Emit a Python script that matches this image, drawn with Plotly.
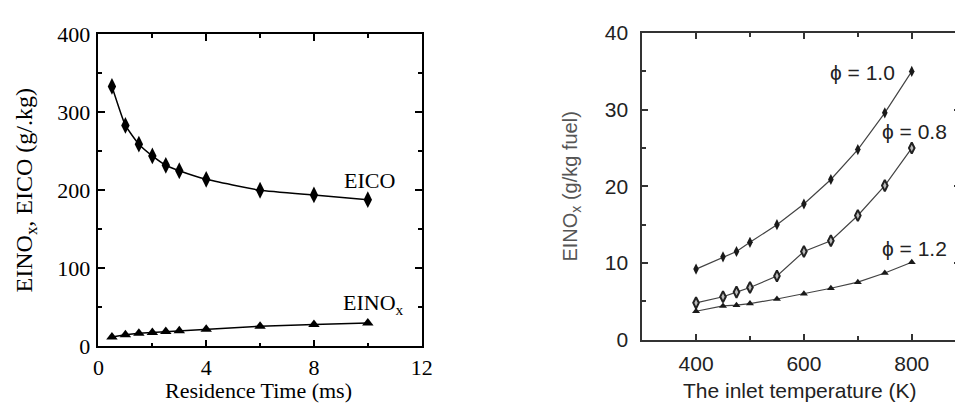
import plotly.graph_objects as go

# ---- Left panel data ----
res_time = [0.5, 1.0, 1.5, 2.0, 2.5, 3.0, 4.0, 6.0, 8.0, 10.0]
eico = [333, 283, 259, 244, 232, 225, 214, 200, 194, 188]
einox = [12, 15, 17, 18, 19, 20, 22, 26, 28, 30]

# ---- Right panel data ----
inlet_T = [400, 450, 475, 500, 550, 600, 650, 700, 750, 800]
phi_10 = [9.2, 10.8, 11.5, 12.7, 15.0, 17.7, 20.9, 24.8, 29.6, 35.0]
phi_08 = [4.8, 5.6, 6.2, 6.8, 8.3, 11.5, 12.9, 16.2, 20.1, 25.0]
phi_12 = [3.7, 4.4, 4.5, 4.7, 5.3, 6.0, 6.7, 7.5, 8.7, 10.1]

left_x_ticks = [0, 4, 8, 12]
left_y_ticks = [0, 100, 200, 300, 400]
right_x_ticks = [400, 600, 800]
right_y_ticks = [0, 10, 20, 30, 40]

SERIF = "Liberation Serif, Times New Roman, serif"
SANS = "Liberation Sans, Arial, sans-serif"

fig = go.Figure()

fig.add_trace(go.Scatter(
    x=res_time, y=eico, mode="lines+markers", name="EICO",
    line=dict(color="black", width=1.5, shape="spline", smoothing=0.4),
    marker=dict(symbol="diamond-tall", size=12, color="black"),
    xaxis="x", yaxis="y", showlegend=False))
fig.add_trace(go.Scatter(
    x=res_time, y=einox, mode="lines+markers", name="EINOx",
    line=dict(color="black", width=1.5),
    marker=dict(symbol="triangle-up", size=10, color="black"),
    xaxis="x", yaxis="y", showlegend=False))

fig.add_trace(go.Scatter(
    x=inlet_T, y=phi_10, mode="lines+markers", name="φ = 1.0",
    line=dict(color="#444", width=1.2),
    marker=dict(symbol="diamond-tall", size=8, color="#1a1a1a"),
    xaxis="x2", yaxis="y2", showlegend=False))
fig.add_trace(go.Scatter(
    x=inlet_T, y=phi_08, mode="lines+markers", name="φ = 0.8",
    line=dict(color="#444", width=1.2),
    marker=dict(symbol="diamond-tall", size=8, color="#bbbbbb",
                line=dict(color="#222", width=2)),
    xaxis="x2", yaxis="y2", showlegend=False))
fig.add_trace(go.Scatter(
    x=inlet_T, y=phi_12, mode="lines+markers", name="φ = 1.2",
    line=dict(color="#444", width=1.2),
    marker=dict(symbol="triangle-up", size=7, color="#1a1a1a"),
    xaxis="x2", yaxis="y2", showlegend=False))

W, H = 963, 404
left_dom_x = [86 / W, 415 / W]
left_dom_y = [(H - 348) / H, (H - 15) / H]
right_dom_x = [639.4 / W, 1.0]
right_dom_y = [(H - 340.7) / H, (H - 14) / H]
right_xmax = 300 + (W - 639.4) / 0.549

common_left = dict(showline=True, linecolor="black", linewidth=1.5, mirror="ticks",
                   ticks="inside", ticklen=7, tickwidth=1.5, tickcolor="black",
                   showgrid=False, zeroline=False,
                   tickfont=dict(family=SERIF, size=22, color="black"))
common_right = dict(showline=True, linecolor="#333", linewidth=1.5, mirror="ticks",
                    ticks="inside", ticklen=6, tickwidth=1.5, tickcolor="#333",
                    showgrid=False, zeroline=False,
                    tickfont=dict(family=SANS, size=21, color="#222"))

fig.update_layout(
    width=W, height=H, margin=dict(l=0, r=0, t=0, b=0),
    paper_bgcolor="white", plot_bgcolor="white",
    xaxis=dict(domain=left_dom_x, range=[0, 12], tickvals=left_x_ticks,
               minor=dict(dtick=2, ticks="inside", ticklen=4, tickcolor="black", showgrid=False),
               anchor="y", ticklabelstandoff=0,
               **common_left),
    yaxis=dict(domain=left_dom_y, range=[0, 400], tickvals=left_y_ticks,
               minor=dict(dtick=50, ticks="inside", ticklen=4, tickcolor="black", showgrid=False),
               anchor="x", ticklabelstandoff=2,
               title=dict(text="EINO<sub>x</sub>, EICO (g/.kg)", font=dict(family=SERIF, size=24, color="black"),
                          standoff=18),
               **common_left),
    xaxis2=dict(domain=right_dom_x, range=[300, right_xmax], tickvals=right_x_ticks,
                minor=dict(dtick=100, ticks="inside", ticklen=4, tickcolor="#333", showgrid=False),
                anchor="y2", ticklabelstandoff=4,
                **common_right),
    yaxis2=dict(domain=right_dom_y, range=[0, 40], tickvals=right_y_ticks,
                minor=dict(dtick=5, ticks="inside", ticklen=4, tickcolor="#333", showgrid=False),
                anchor="x2", ticklabelstandoff=8,
                title=dict(text="EINO<sub>x</sub> (g/kg fuel)", font=dict(family=SANS, size=20, color="#555"),
                           standoff=22),
                **common_right),
)

# x-axis titles placed precisely in paper space
fig.add_annotation(x=249 / W, y=0, xref="paper", yref="paper", xanchor="center", yanchor="bottom",
                   text="Residence Time (ms)", showarrow=False, yshift=-6,
                   font=dict(family=SERIF, size=22, color="black"))
fig.add_annotation(x=800 / W, y=0, xref="paper", yref="paper", xanchor="center", yanchor="bottom",
                   text="The inlet temperature (K)", showarrow=False, yshift=-5,
                   font=dict(family=SANS, size=21, color="#222"))

fig.add_annotation(x=10.05, y=212, xref="x", yref="y", text="EICO", showarrow=False,
                   font=dict(family=SERIF, size=22, color="black"))
fig.add_annotation(x=10.2, y=54, xref="x", yref="y", text="EINO<sub>x</sub>", showarrow=False,
                   font=dict(family=SERIF, size=22, color="black"))
fig.add_annotation(x=708, y=34.8, xref="x2", yref="y2", text="ϕ = 1.0", showarrow=False,
                   font=dict(family=SANS, size=21, color="#222"))
fig.add_annotation(x=805, y=27.2, xref="x2", yref="y2", text="ϕ = 0.8", showarrow=False,
                   font=dict(family=SANS, size=21, color="#222"))
fig.add_annotation(x=805, y=11.9, xref="x2", yref="y2", text="ϕ = 1.2", showarrow=False,
                   font=dict(family=SANS, size=21, color="#222"))

fig.write_html("out.html")
